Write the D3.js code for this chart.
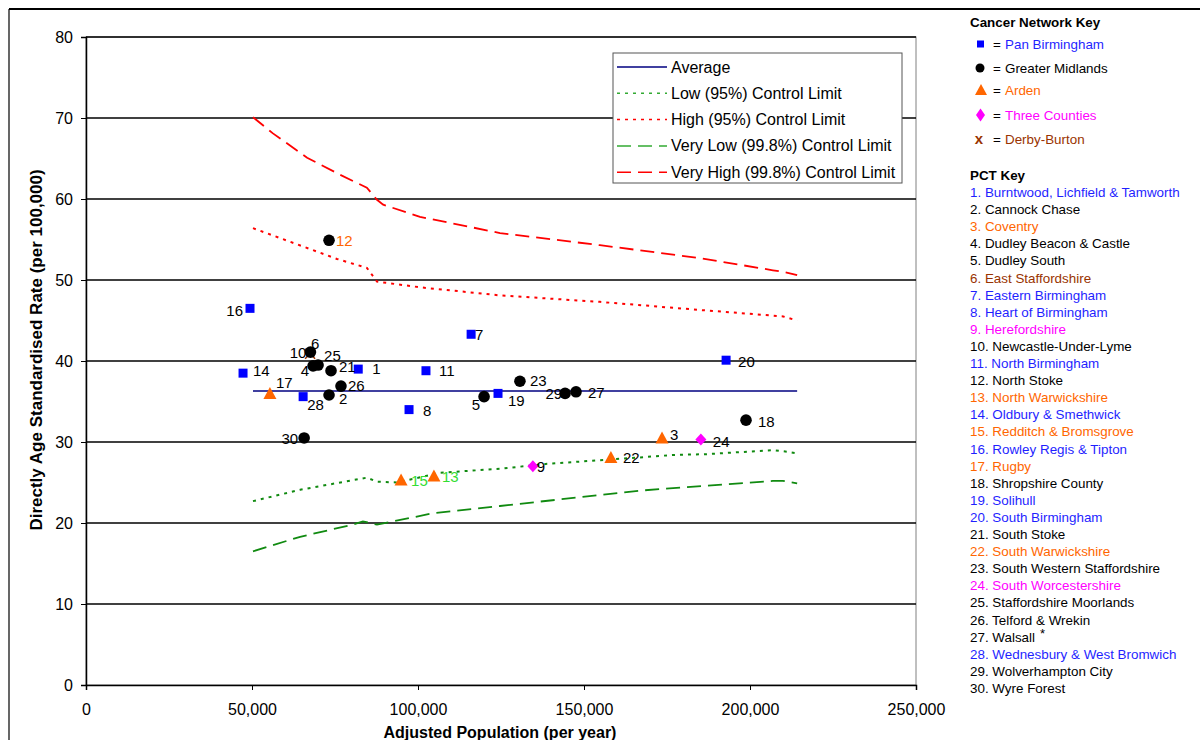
<!DOCTYPE html>
<html><head><meta charset="utf-8">
<script src="https://cdn.jsdelivr.net/npm/d3@7"></script>
<style>
body{margin:0;background:#fff;}
svg{font-family:"Liberation Sans",Arial,sans-serif;}
</style></head>
<body><svg id="c" width="1200" height="740"></svg>
<script>
// ---------- DATA ----------
const pctIds = d3.range(1, 31);
const pctNames = ["Burntwood, Lichfield & Tamworth","Cannock Chase","Coventry","Dudley Beacon & Castle","Dudley South","East Staffordshire","Eastern Birmingham","Heart of Birmingham","Herefordshire","Newcastle-Under-Lyme","North Birmingham","North Stoke","North Warwickshire","Oldbury & Smethwick","Redditch & Bromsgrove","Rowley Regis & Tipton","Rugby","Shropshire County","Solihull","South Birmingham","South Stoke","South Warwickshire","South Western Staffordshire","South Worcestershire","Staffordshire Moorlands","Telford & Wrekin","Walsall","Wednesbury & West Bromwich","Wolverhampton City","Wyre Forest"];
const pctNetwork = ["Pan","GM","Arden","GM","GM","Derby","Pan","Pan","Three","GM","Pan","GM","Arden","Pan","Arden","Pan","Arden","GM","Pan","Pan","GM","Arden","GM","Three","GM","GM","GM","Pan","GM","GM"];
const population = [82000,73200,173500,68400,119900,67500,116000,97300,134600,67600,102400,73200,104800,47300,94900,49400,55400,198800,124100,192800,73800,158100,130700,185200,69900,76800,147600,65400,144300,65700];
const rate = [39.0,35.8,30.5,39.4,35.6,40.9,43.3,34.0,27.0,41.1,38.8,54.9,25.8,38.5,25.3,46.5,36.0,32.7,36.0,40.1,38.8,28.1,37.5,30.3,39.5,36.9,36.2,35.6,36.0,30.5];

const networkKeys = ["Pan","GM","Arden","Three","Derby"];
const networkNames = ["Pan Birmingham","Greater Midlands","Arden","Three Counties","Derby-Burton"];

const averageRate = 36.3;
const averageRange = [50300, 214200];

const vhPop = [50300,56300,66600,76500,84600,87650,89500,100600,124700,154800,184900,206900,210000,214200];
const vhVal = [70.1,68.1,65.1,63.0,61.4,59.9,59.3,57.8,55.8,54.3,52.7,51.2,51.0,50.6];
const hiPop = [50300,75600,84600,87650,100600,124700,154800,184900,206900,210000,214200];
const hiVal = [56.4,52.6,51.5,49.8,49.1,48.1,47.3,46.3,45.6,45.5,45.0];
const loPop = [50300,64500,84600,87650,93700,106600,124700,138900,166900,176800,187000,206900,211100,214200];
const loVal = [22.7,24.1,25.6,25.1,25.0,26.2,26.7,27.3,28.1,28.4,28.5,29.0,28.8,28.6];
const vlPop = [50300,64500,80400,83400,87650,104500,124700,166900,187000,206900,209900,214200];
const vlVal = [16.5,18.3,19.8,20.2,19.8,21.2,22.1,24.0,24.6,25.2,25.2,24.9];

const xTicks = [0,50000,100000,150000,200000,250000];
const yTicks = [0,10,20,30,40,50,60,70,80];
const legendLabels = ["Average","Low (95%) Control Limit","High (95%) Control Limit","Very Low (99.8%) Control Limit","Very High (99.8%) Control Limit"];

// ---------- STYLE / LAYOUT ----------
const colNet = {Pan:"#0000ff", GM:"#000000", Arden:"#ff6600", Three:"#ff00ff", Derby:"#993300"};
const keyTextCol = {Pan:"#1f1fff", GM:"#000000", Arden:"#ff6600", Three:"#ff00ff", Derby:"#993300"};
const labelPos = {
 1:[14,5,"start"],2:[10,9,"start"],3:[8,2,"start"],4:[-4,10,"end"],5:[-4,13,"end"],
 6:[1,-5,"start"],7:[4,6,"start"],8:[14,6,"start"],9:[4,6,"start"],10:[-4,6,"end"],
 11:[13,5,"start"],12:[7,6,"start"],13:[8,6,"start"],14:[10,3,"start"],15:[10,6,"start"],
 16:[-7,8,"end"],17:[6,-5,"start"],18:[12,7,"start"],19:[10,13,"start"],20:[12,7,"start"],
 21:[8,1,"start"],22:[12,6,"start"],23:[10,5,"start"],24:[12,7,"start"],25:[6,-4,"start"],
 26:[7,5,"start"],27:[12,6,"start"],28:[4,13,"start"],29:[-3,6,"end"],30:[-6,6,"end"]
};
const labelCol = {12:"#ff6600",13:"#33dd33",15:"#33dd33"};

const svg = d3.select("#c");
const M = {l:86, r:916, t:37, b:685};
const x = d3.scaleLinear().domain([0,250000]).range([M.l, M.r]);
const y = d3.scaleLinear().domain([0,80]).range([M.b, M.t]);

// outer frame
svg.append("line").attr("x1",9).attr("x2",1200).attr("y1",9).attr("y2",9).attr("stroke","#000").attr("stroke-width",2);
svg.append("line").attr("x1",9).attr("x2",9).attr("y1",9).attr("y2",740).attr("stroke","#000").attr("stroke-width",1.2);

// plot border
svg.append("rect").attr("x",M.l).attr("y",M.t).attr("width",M.r-M.l).attr("height",M.b-M.t)
  .attr("fill","none").attr("stroke","#808080").attr("stroke-width",1);

// gridlines
svg.append("g").selectAll("line").data(yTicks.filter(d=>d>0)).join("line")
  .attr("x1",M.l).attr("x2",M.r).attr("y1",d=>y(d)).attr("y2",d=>y(d))
  .attr("stroke","#000").attr("stroke-width",1.4);

// axes
const yAxis = d3.axisLeft(y).tickValues(yTicks).tickSize(5).tickPadding(8).tickFormat(d3.format("d"));
const gy = svg.append("g").attr("transform",`translate(${M.l},0)`).call(yAxis);
const xAxis = d3.axisBottom(x).tickValues(xTicks).tickSize(5).tickPadding(14).tickFormat(d3.format(","));
const gx = svg.append("g").attr("transform",`translate(0,${M.b})`).call(xAxis);
[gx,gy].forEach(g=>{
  g.select(".domain").attr("stroke","#000").attr("stroke-width",1.5);
  g.selectAll(".tick line").attr("stroke","#000");
  g.selectAll("text").attr("font-family","Liberation Sans, Arial, sans-serif").attr("font-size",16).attr("fill","#000");
});

svg.append("text").attr("x",500).attr("y",738).attr("text-anchor","middle")
  .attr("font-size",16).attr("font-weight","bold").text("Adjusted Population (per year)");
svg.append("text").attr("transform","translate(42,350) rotate(-90)").attr("text-anchor","middle")
  .attr("font-size",17).attr("font-weight","bold").text("Directly Age Standardised Rate (per 100,000)");

// control limit lines
const line = d3.line().x(d=>x(d[0])).y(d=>y(d[1]));
const curves = [
  {pop:loPop, val:loVal, col:"#108a10", dash:"3,5", w:2},
  {pop:hiPop, val:hiVal, col:"#ff0000", dash:"3,5", w:2},
  {pop:vlPop, val:vlVal, col:"#108a10", dash:"14,7", w:1.8},
  {pop:vhPop, val:vhVal, col:"#ff0000", dash:"14,7", w:1.8}
];
curves.forEach(c=>{
  svg.append("path").datum(d3.zip(c.pop,c.val)).attr("d",line)
    .attr("fill","none").attr("stroke",c.col).attr("stroke-width",c.w).attr("stroke-dasharray",c.dash);
});
svg.append("line").attr("x1",x(averageRange[0])).attr("x2",x(averageRange[1]))
  .attr("y1",y(averageRate)).attr("y2",y(averageRate)).attr("stroke","#000080").attr("stroke-width",1.5);

// markers
function drawMarker(g, net, cx, cy, s){
  s = s || 1;
  const c = colNet[net];
  if(net==="Pan") g.append("rect").attr("x",cx-4.5*s).attr("y",cy-4.5*s).attr("width",9*s).attr("height",9*s).attr("fill",c);
  else if(net==="GM") g.append("circle").attr("cx",cx).attr("cy",cy).attr("r",5.8*s).attr("fill",c);
  else if(net==="Arden") g.append("path").attr("d",`M${cx},${cy-6.5*s}L${cx+6.5*s},${cy+5.5*s}L${cx-6.5*s},${cy+5.5*s}Z`).attr("fill",c);
  else if(net==="Three") g.append("path").attr("d",`M${cx},${cy-6*s}L${cx+5.5*s},${cy}L${cx},${cy+6*s}L${cx-5.5*s},${cy}Z`).attr("fill",c);
  else if(net==="Derby") g.append("path").attr("d",`M${cx-5},${cy-5}L${cx+5},${cy+5}M${cx+5},${cy-5}L${cx-5},${cy+5}`).attr("stroke",c).attr("stroke-width",1.5);
}
const gp = svg.append("g");
const order = d3.range(30).sort((a,b)=> (pctNetwork[a]==="Derby"?-1:0)-(pctNetwork[b]==="Derby"?-1:0));
order.forEach(i=>drawMarker(gp, pctNetwork[i], x(population[i]), y(rate[i])));
const gl = svg.append("g");
pctIds.forEach((id,i)=>{
  const p = labelPos[id];
  gl.append("text").attr("x",x(population[i])+p[0]).attr("y",y(rate[i])+p[1])
    .attr("text-anchor",p[2]).attr("font-size",15).attr("fill",labelCol[id]||"#000").text(id);
});

// legend box
const lg = svg.append("g");
lg.append("rect").attr("x",613).attr("y",53).attr("width",289).attr("height",130)
  .attr("fill","#fff").attr("stroke","#555").attr("stroke-width",1);
const legStyles = [
  {col:"#000080", dash:null},
  {col:"#33aa33", dash:"3,5"},
  {col:"#ff0000", dash:"3,5"},
  {col:"#33aa33", dash:"14,7"},
  {col:"#ff0000", dash:"14,7"}
];
legendLabels.forEach((t,i)=>{
  const yy = 67 + i*26.3;
  const l = lg.append("line").attr("x1",617).attr("x2",667).attr("y1",yy).attr("y2",yy)
    .attr("stroke",legStyles[i].col).attr("stroke-width",1.5);
  if(legStyles[i].dash) l.attr("stroke-dasharray",legStyles[i].dash);
  lg.append("text").attr("x",671).attr("y",yy+5.5).attr("font-size",16).attr("fill","#000").text(t);
});

// cancer network key
const kg = svg.append("g");
kg.append("text").attr("x",970).attr("y",27).attr("font-size",13.4).attr("font-weight","bold").text("Cancer Network Key");
const keyY = [44,68,90,115,139];
networkKeys.forEach((k,i)=>{
  if(k==="Pan") kg.append("rect").attr("x",977).attr("y",keyY[i]-3.5).attr("width",7).attr("height",7).attr("fill",colNet[k]);
  else if(k==="GM") kg.append("circle").attr("cx",980).attr("cy",keyY[i]).attr("r",4.5).attr("fill",colNet[k]);
  else if(k==="Arden") kg.append("path").attr("d",`M981,${keyY[i]-6}L987,${keyY[i]+5}L975,${keyY[i]+5}Z`).attr("fill",colNet[k]);
  else if(k==="Three") kg.append("path").attr("d",`M980.5,${keyY[i]-6.5}L985,${keyY[i]}L980.5,${keyY[i]+6.5}L976,${keyY[i]}Z`).attr("fill",colNet[k]);
  else kg.append("text").attr("x",979).attr("y",keyY[i]+4.5).attr("text-anchor","middle").attr("font-size",15).attr("font-weight","bold").attr("fill",colNet[k]).text("x");
  kg.append("text").attr("x",993).attr("y",keyY[i]+4.5).attr("font-size",13.4).attr("fill","#000").text("=");
  kg.append("text").attr("x",1005).attr("y",keyY[i]+4.5).attr("font-size",13.4).attr("fill",keyTextCol[k]).text(networkNames[i]);
});

kg.append("text").attr("x",970).attr("y",180).attr("font-size",13.4).attr("font-weight","bold").text("PCT Key");
pctIds.forEach((id,i)=>{
  const yy = 197 + i*17.1;
  const t = kg.append("text").attr("x",970).attr("y",yy).attr("font-size",13.4)
    .attr("fill",keyTextCol[pctNetwork[i]]).text(id+". "+pctNames[i]);
  if(id===27) t.append("tspan").attr("dx",5).attr("dy",-4).attr("font-size",13).text("*");
});
</script></body></html>
